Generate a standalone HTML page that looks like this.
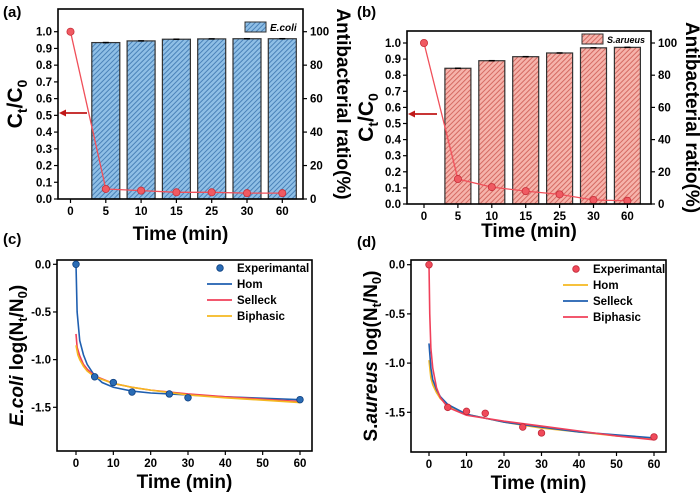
<!DOCTYPE html>
<html><head><meta charset="utf-8"><style>
html,body{margin:0;padding:0;background:#fff;}
svg{display:block;font-family:"Liberation Sans",Arial,sans-serif;font-weight:bold;}
</style></head><body>
<svg id="fig" width="700" height="497" viewBox="0 0 700 497" xmlns="http://www.w3.org/2000/svg">
<defs>
<pattern id="hatchBlue" patternUnits="userSpaceOnUse" width="3.5" height="3.5" patternTransform="rotate(-45)">
<rect width="3.5" height="3.5" fill="#8fbfe6"/><rect width="3.5" height="1" fill="#4a82b8"/></pattern>
<pattern id="hatchRed" patternUnits="userSpaceOnUse" width="3.5" height="3.5" patternTransform="rotate(-45)">
<rect width="3.5" height="3.5" fill="#f6b3ab"/><rect width="3.5" height="1" fill="#d46a62"/></pattern>
</defs>
</svg>
<script>
// ---- data: panel a
const catsA = ['0','5','10','15','25','30','60'];
const barsA = [null,93.5,94.5,95.5,95.7,95.8,95.8];
const lineA = [1.0,0.06,0.05,0.04,0.04,0.035,0.035];
// ---- panel b
const catsB = ['0','5','10','15','25','30','60'];
const barsB = [null,84.3,89,91.5,93.8,97,97.3];
const lineB = [1.0,0.155,0.105,0.08,0.06,0.025,0.02];
// ---- panel c
const expTc = [0,5,10,15,25,30,60];
const expVc = [0,-1.18,-1.24,-1.34,-1.36,-1.40,-1.42];
const homTc = [0,0.3,1,2,3,5,7,10,15,20,30,40,60];
const homVc = [0,-0.5,-0.8,-0.95,-1.05,-1.17,-1.24,-1.29,-1.33,-1.35,-1.37,-1.39,-1.42];
const selTc = [0,0.3,1,2,3,5,10,15,20,30,40,60];
const selVc = [-0.73,-0.87,-0.96,-1.05,-1.1,-1.17,-1.25,-1.29,-1.32,-1.36,-1.39,-1.44];
const biTc = [0,0.5,1,2,3,5,10,15,20,30,40,60];
const biVc = [-0.85,-0.95,-1.0,-1.07,-1.12,-1.18,-1.25,-1.29,-1.32,-1.37,-1.4,-1.45];
// ---- panel d
const expTd = [0,5,10,15,25,30,60];
const expVd = [0,-1.45,-1.49,-1.51,-1.65,-1.71,-1.75];
const homTd = [0,0.5,1,2,3,5,10,20,30,40,50,60];
const homVd = [-0.97,-1.15,-1.22,-1.3,-1.36,-1.43,-1.52,-1.6,-1.66,-1.7,-1.74,-1.77];
const selTd = [0,0.5,1,2,3,5,10,20,30,40,60];
const selVd = [-0.8,-1.05,-1.17,-1.27,-1.34,-1.42,-1.52,-1.6,-1.65,-1.7,-1.76];
const biTd = [0,0.2,0.5,1,2,3,5,10,20,30,40,50,60];
const biVd = [0,-0.5,-0.85,-1.05,-1.25,-1.35,-1.45,-1.53,-1.59,-1.64,-1.69,-1.74,-1.78];
const ticksLeft = ['0.0','0.1','0.2','0.3','0.4','0.5','0.6','0.7','0.8','0.9','1.0'];
const ticksRight = [0,20,40,60,80,100];
const ticksTime = [0,10,20,30,40,50,60];
const ticksLog = [0,-0.5,-1.0,-1.5];

const svg = document.getElementById('fig');
const NS = 'http://www.w3.org/2000/svg';
function el(tag, attrs, parent){const e=document.createElementNS(NS,tag);for(const k in attrs)e.setAttribute(k,attrs[k]);(parent||svg).appendChild(e);return e;}
function txt(x,y,s,size,anchor,parent){const t=el('text',{x:x,y:y,'font-size':size,'text-anchor':anchor||'middle'},parent);t.textContent=s;return t;}

function barPanel(o){
  const g=el('g',{});
  
  
  const y=v=>o.y0-(v)*(o.y0-o.y1);
  const x=i=>o.xc0+i*o.dx;
  o.bars.forEach((b,i)=>{ if(b==null) return;
    const r=el('rect',{x:x(i)-o.bw/2,y:y(b/100),width:o.bw,height:o.y0-y(b/100),fill:o.fill,stroke:'#333','stroke-width':1.2},g);
    
    
    el('line',{x1:x(i)-3,x2:x(i)+3,y1:y(b/100),y2:y(b/100),stroke:'#000','stroke-width':1.5},g);
  });
  let pts=o.line.map((v,i)=>x(i)+','+y(v)).join(' ');
  const pl=el('polyline',{points:pts,fill:'none',stroke:'#f0505a','stroke-width':1.3},g);
  
  
  o.line.forEach((v,i)=>{const c=el('circle',{cx:x(i),cy:y(v),r:3.6,fill:'#f05a62',stroke:'#c8303a','stroke-width':0.8},g);
    
    });
  el('rect',{x:o.L,y:o.T,width:o.R-o.L,height:o.y0-o.T,fill:'none',stroke:'#000','stroke-width':1.6},g);
  o.tl.forEach((s,i)=>{const yy=y(i/10);el('line',{x1:o.L-4,x2:o.L,y1:yy,y2:yy,stroke:'#000','stroke-width':1.2},g);txt(o.L-6,yy+4,s,11.5,'end',g);});
  o.tr.forEach(v=>{const yy=y(v/100);el('line',{x1:o.R,x2:o.R+4,y1:yy,y2:yy,stroke:'#000','stroke-width':1.2},g);txt(o.R+7,yy+4,String(v),11.5,'start',g);});
  o.cats.forEach((c,i)=>{el('line',{x1:x(i),x2:x(i),y1:o.y0,y2:o.y0+4,stroke:'#000','stroke-width':1.2},g);txt(x(i),o.y0+16,c,11.5,'middle',g);});
  const xt=txt((o.L+o.R)/2,o.xtY,'Time (min)',19,'middle',g);
  
  const lt=el('text',{x:0,y:0,'font-size':21,'text-anchor':'middle',transform:`translate(${o.ltX},${(o.T+o.y0)/2}) rotate(-90)`},g);
  lt.innerHTML='C<tspan font-size="14" dy="5">t</tspan><tspan dy="-5">/C</tspan><tspan font-size="14" dy="5">0</tspan>';
  
  const rt=el('text',{x:0,y:0,'font-size':19,'text-anchor':'middle',transform:`translate(${o.rtX},${(o.T+o.y0)/2}) rotate(90)`},g);
  rt.textContent='Antibacterial ratio(%)';
  
  el('line',{x1:o.arX2,x2:o.L+6,y1:o.arY,y2:o.arY,stroke:'#c01818','stroke-width':1.8},g);
  el('polygon',{points:`${o.L+1},${o.arY} ${o.L+8},${o.arY-3.5} ${o.L+8},${o.arY+3.5}`,fill:'#c01818'},g);
  const lg=el('g',{},g);
  el('rect',{x:o.lgX,y:o.lgY,width:21,height:10,fill:o.fill,stroke:'#333','stroke-width':1},lg);
  txt(o.lgX+25,o.lgY+9,o.lgText,o.lgSize,'start',lg).setAttribute('font-style','italic');
  txt(o.labX,o.labY,o.lab,15,'start',g);
}
barPanel({name:'panel-a',cats:catsA,bars:barsA,line:lineA,fill:'url(#hatchBlue)',L:58,R:303,T:9,y0:199,y1:31.7,xc0:70.5,dx:35.3,bw:28,tl:ticksLeft,tr:ticksRight,xtY:240,ltX:22,rtX:337,arY:113,arX2:87,lgX:245,lgY:22,lgText:'E.coli',lgSize:10,labX:3,labY:17,lab:'(a)'});
barPanel({name:'panel-b',cats:catsB,bars:barsB,line:lineB,fill:'url(#hatchRed)',L:407,R:651,T:31,y0:204,y1:43,xc0:424,dx:33.9,bw:26,tl:ticksLeft,tr:ticksRight,xtY:237,ltX:373,rtX:686,arY:114,arX2:437,lgX:582,lgY:34,lgText:'S.arueus',lgSize:9,labX:357,labY:17,lab:'(b)'});

function fitPanel(o){
  const g=el('g',{});
  
  
  const x=t=>o.x0+t*(o.x60-o.x0)/60;
  const y=v=>o.y0+v*(o.y0-o.y15)/1.5;
  el('rect',{x:o.L,y:o.T,width:o.R-o.L,height:o.B-o.T,fill:'none',stroke:'#000','stroke-width':1.6},g);
  ticksTime.forEach(t=>{el('line',{x1:x(t),x2:x(t),y1:o.B,y2:o.B+4,stroke:'#000','stroke-width':1.2},g);txt(x(t),o.B+16,String(t),11.5,'middle',g);});
  ticksLog.forEach(v=>{el('line',{x1:o.L-4,x2:o.L,y1:y(v),y2:y(v),stroke:'#000','stroke-width':1.2},g);txt(o.L-6,y(v)+4,v.toFixed(1),11.5,'end',g);});
  o.curves.forEach(c=>{
    const p=el('polyline',{points:c.t.map((t,i)=>x(t)+','+y(c.v[i])).join(' '),fill:'none',stroke:c.color,'stroke-width':1.6},g);
    
    
  });
  o.expT.forEach((t,i)=>{const c=el('circle',{cx:x(t),cy:y(o.expV[i]),r:3.3,fill:o.expColor,stroke:o.expStroke,'stroke-width':0.8},g);
    
    });
  const xt=txt((o.L+o.R)/2,o.B+37,'Time (min)',19,'middle',g);
  
  const yt=el('text',{x:0,y:0,'font-size':19,'text-anchor':'middle',transform:`translate(${o.ytX},${(o.T+o.B)/2}) rotate(-90)`},g);
  yt.innerHTML=o.ytitle;
  
  const lg=el('g',{},g);
  el('circle',{cx:o.lgX+13,cy:o.lgY,r:3.3,fill:o.expColor,stroke:o.expStroke,'stroke-width':0.8},lg);
  txt(o.lgX+30,o.lgY+4,'Experimantal',11.5,'start',lg);
  o.curves.forEach((c,i)=>{const yy=o.lgY+16*(i+1);
    el('line',{x1:o.lgX,x2:o.lgX+25,y1:yy,y2:yy,stroke:c.color,'stroke-width':1.8},lg);
    txt(o.lgX+30,yy+4,c.label,11.5,'start',lg);});
  txt(o.labX,o.labY,o.lab,15,'start',g);
}
fitPanel({name:'panel-c',L:57,R:312,T:260,B:451,x0:76,x60:300,y0:264.3,y15:407.3,expT:expTc,expV:expVc,expColor:'#2a6cb5',expStroke:'#0d3f80',
  curves:[{name:'hom',label:'Hom',t:homTc,v:homVc,color:'#1f5fb0'},{name:'selleck',label:'Selleck',t:selTc,v:selVc,color:'#f0405a'},{name:'biphasic',label:'Biphasic',t:biTc,v:biVc,color:'#f5b820'}],
  ytX:23,ytitle:'<tspan font-style="italic">E.coli</tspan> log(N<tspan font-size="13" dy="4">t</tspan><tspan dy="-4">/N</tspan><tspan font-size="13" dy="4">0</tspan><tspan dy="-4">)</tspan>',
  lgX:207,lgY:268,labX:3,labY:244,lab:'(c)'});
fitPanel({name:'panel-d',L:411,R:666,T:260,B:452,x0:429,x60:654,y0:264.7,y15:412.3,expT:expTd,expV:expVd,expColor:'#f04a5a',expStroke:'#c02838',
  curves:[{name:'hom',label:'Hom',t:homTd,v:homVd,color:'#f5b820'},{name:'selleck',label:'Selleck',t:selTd,v:selVd,color:'#1f5fb0'},{name:'biphasic',label:'Biphasic',t:biTd,v:biVd,color:'#f0405a'}],
  ytX:377,ytitle:'S.<tspan font-style="italic">aureus</tspan> log(N<tspan font-size="13" dy="4">t</tspan><tspan dy="-4">/N</tspan><tspan font-size="13" dy="4">0</tspan><tspan dy="-4">)</tspan>',
  lgX:563,lgY:269,labX:357,labY:247,lab:'(d)'});
</script>
</body></html>
